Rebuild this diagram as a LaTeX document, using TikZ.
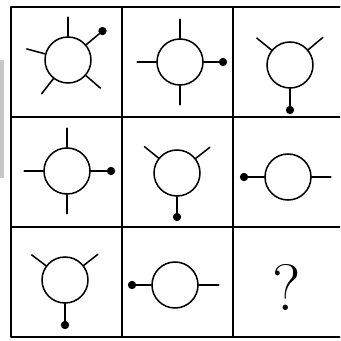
\documentclass[tikz,border=0pt]{standalone}
\usetikzlibrary{calc}

\begin{document}
\begin{tikzpicture}[
  x=0.03cm,
  y=0.03cm,
  line cap=round,
  line join=round,
  ring/.style={circle,draw,line width=1.3pt,minimum size=1.38cm,inner sep=0pt},
  spoke/.style={line width=1.3pt},
  knob/.style={circle,fill,inner sep=0pt,minimum size=0.25cm},
  frame/.style={line width=1.7pt}
]

\useasboundingbox (0,0) rectangle (340,341);
\clip (0,0) rectangle (340,341);

% scan shadow at the left edge
\fill[black!22] (0,163) rectangle (3.5,281);

% ------------------------------------------------------------------
% Grid
% ------------------------------------------------------------------
\draw[frame] (11,4) rectangle (346,334);
\draw[frame] (122,4) -- (122,334);
\draw[frame] (233,4) -- (233,334);
\draw[frame] (11,114) -- (346,114);
\draw[frame] (11,224) -- (346,224);

% ------------------------------------------------------------------
% Top row
% ------------------------------------------------------------------
\node[ring] (c11) at (68,281) {};
\foreach \a in {90,165,232,319}
  \draw[spoke] (c11.\a) -- ++(\a:19);
\node[knob] (k11) at ($(c11)+(40:45)$) {};
\draw[spoke] (c11.40) -- (k11);

\node[ring] (c12) at (180,279) {};
\foreach \a in {90,180,270}
  \draw[spoke] (c12.\a) -- ++(\a:19);
\node[knob] (k12) at ($(c12)+(0:43)$) {};
\draw[spoke] (c12.0) -- (k12);

\node[ring] (c13) at (290,276) {};
\foreach \a in {40,141}
  \draw[spoke] (c13.\a) -- ++(\a:19);
\node[knob] (k13) at ($(c13)+(270:45)$) {};
\draw[spoke] (c13.270) -- (k13);

% ------------------------------------------------------------------
% Middle row
% ------------------------------------------------------------------
\node[ring] (c21) at (67,170) {};
\foreach \a in {90,180,270}
  \draw[spoke] (c21.\a) -- ++(\a:19);
\node[knob] (k21) at ($(c21)+(0:44)$) {};
\draw[spoke] (c21.0) -- (k21);

\node[ring] (c22) at (177,168) {};
\foreach \a in {38,141}
  \draw[spoke] (c22.\a) -- ++(\a:18);
\node[knob] (k22) at ($(c22)+(270:44)$) {};
\draw[spoke] (c22.270) -- (k22);

\node[ring] (c23) at (288,164) {};
\draw[spoke] (c23.0) -- ++(0:19);
\node[knob] (k23) at ($(c23)+(180:44)$) {};
\draw[spoke] (c23.180) -- (k23);

% ------------------------------------------------------------------
% Bottom row
% ------------------------------------------------------------------
\node[ring] (c31) at (65,61) {};
\foreach \a in {38,143}
  \draw[spoke] (c31.\a) -- ++(\a:18);
\node[knob] (k31) at ($(c31)+(270:45)$) {};
\draw[spoke] (c31.270) -- (k31);

\node[ring] (c32) at (175,56) {};
\draw[spoke] (c32.0) -- ++(0:20);
\node[knob] (k32) at ($(c32)+(180:43)$) {};
\draw[spoke] (c32.180) -- (k32);

\node[inner sep=0pt] (ask) at (287,54) {\fontsize{56}{60}\selectfont ?};

\end{tikzpicture}
\end{document}
